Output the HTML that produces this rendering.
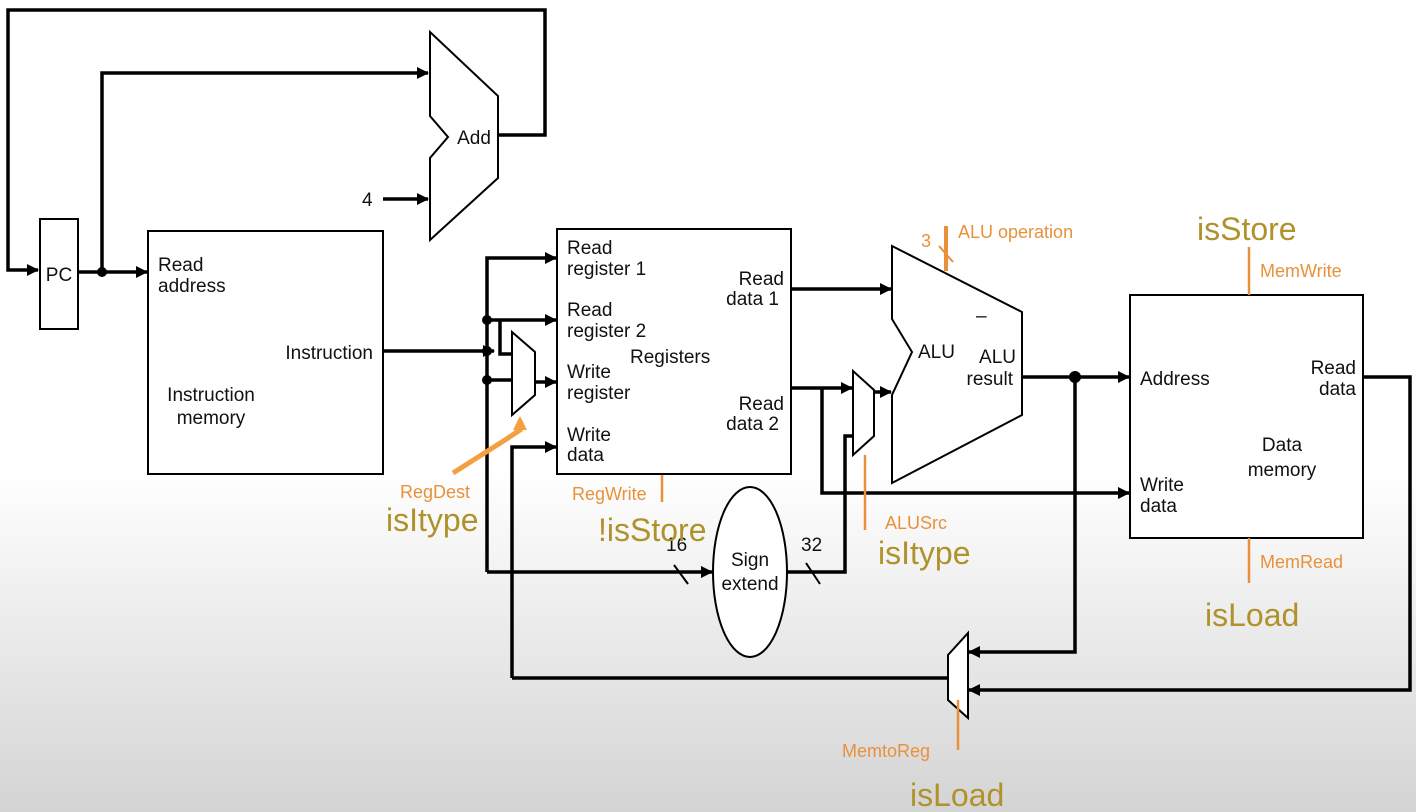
<!DOCTYPE html>
<html><head><meta charset="utf-8"><style>
html,body{margin:0;padding:0;width:1416px;height:812px;overflow:hidden;}
body{background:linear-gradient(to bottom,#fff 0px,#fff 470px,#e2e2e2 700px,#d4d4d4 812px);}
svg{position:absolute;left:0;top:0;}
text{font-family:"Liberation Sans",sans-serif;}
.b{font-size:19px;fill:#111;}
.o{font-size:18px;fill:#e8913a;}
.g{font-size:32px;fill:#b0922c;}
</style></head><body>
<svg width="1416" height="812" viewBox="0 0 1416 812">
<defs><marker id="a" markerWidth="12" markerHeight="12" refX="11" refY="6" orient="auto" markerUnits="userSpaceOnUse" viewBox="0 0 12 12"><path d="M0,0 L12,6 L0,12z" fill="#000"/></marker>
<marker id="ao" markerWidth="14" markerHeight="14" refX="10" refY="7" orient="auto" markerUnits="userSpaceOnUse" viewBox="0 0 14 14"><path d="M0,0 L14,7 L0,14z" fill="#f5a040"/></marker></defs>
<g fill="none" stroke="#000" stroke-width="3.5">
<polyline points="498,135 545,135 545,10 8,10 8,270 38,270" marker-end="url(#a)"/>
<polyline points="78,272 147,272" marker-end="url(#a)"/>
<polyline points="102,272 102,73 428,73" marker-end="url(#a)"/>
<polyline points="383,199 428,199" marker-end="url(#a)"/>
<polyline points="383,351 494,351" marker-end="url(#a)"/>
<polyline points="487,572 487,258 556,258" marker-end="url(#a)"/>
<polyline points="487,320 556,320" marker-end="url(#a)"/>
<polyline points="500,320 500,354 512,354"/>
<polyline points="487,380 512,380"/>
<polyline points="535,382 556,382" marker-end="url(#a)"/>
<polyline points="512,678 512,447 556,447" marker-end="url(#a)"/>
<polyline points="487,572 712,572" marker-end="url(#a)"/>
<polyline points="787,572 845,572 845,436 853,436"/>
<polyline points="791,289 891,289" marker-end="url(#a)"/>
<polyline points="791,388 852,388" marker-end="url(#a)"/>
<polyline points="822,388 822,493 1129,493" marker-end="url(#a)"/>
<polyline points="874,392 891,392" marker-end="url(#a)"/>
<polyline points="1022,377 1129,377" marker-end="url(#a)"/>
<polyline points="1075,377 1075,652 969,652" marker-end="url(#a)"/>
<polyline points="1363,377 1410,377 1410,690 969,690" marker-end="url(#a)"/>
<polyline points="948,678 512,678"/>
</g>
<g fill="#000"><circle cx="102" cy="272" r="5"/><circle cx="487" cy="351" r="5"/><circle cx="487" cy="320" r="5"/><circle cx="487" cy="380" r="5"/><circle cx="1075" cy="377" r="6"/></g>
<g fill="#fff" stroke="#000" stroke-width="2">
<rect x="40" y="219" width="38" height="110"/>
<rect x="148" y="231" width="235" height="243"/>
<rect x="557" y="229" width="234" height="245"/>
<rect x="1130" y="295" width="233" height="243"/>
<polygon points="430,32 498,96 498,178 430,240 430,158 448,137 430,116"/>
<polygon points="512,332 535,352 535,395 512,415"/>
<polygon points="853,371 874,390 874,436 853,455"/>
<polygon points="892,246 1022,312 1022,415 892,483 892,395 912,352 892,319"/>
<polygon points="948,655 968,633 968,718 948,700"/>
<ellipse cx="750" cy="572" rx="37" ry="85"/>
</g>
<g stroke="#000" stroke-width="2"><line x1="674" y1="565" x2="688" y2="584"/><line x1="806" y1="563" x2="820" y2="584"/></g>
<g stroke="#e8913a" stroke-width="2.5" fill="none">
<line x1="662" y1="475" x2="662" y2="502"/>
<line x1="865" y1="455" x2="865" y2="530"/>
<line x1="1249" y1="247" x2="1249" y2="295"/>
<line x1="1249" y1="538" x2="1249" y2="583"/>
<line x1="958" y1="700" x2="958" y2="750"/>
<line x1="946" y1="226" x2="946" y2="271" stroke-width="4"/>
<line x1="939" y1="246" x2="953" y2="262" stroke-width="2"/>
<polyline points="453,473 505,440 520,430 520,420" stroke="#f5a040" stroke-width="5" marker-end="url(#ao)"/>
</g>
<text class="b" x="474" y="144" text-anchor="middle">Add</text>
<text class="b" x="362" y="206">4</text>
<text class="b" x="59" y="281" text-anchor="middle">PC</text>
<text class="b" x="158" y="271">Read</text><text class="b" x="158" y="292">address</text>
<text class="b" x="373" y="359" text-anchor="end">Instruction</text>
<text class="b" x="211" y="401" text-anchor="middle">Instruction</text><text class="b" x="211" y="424" text-anchor="middle">memory</text>
<text class="b" x="567" y="254">Read</text><text class="b" x="567" y="275">register 1</text>
<text class="b" x="567" y="316">Read</text><text class="b" x="567" y="337">register 2</text>
<text class="b" x="567" y="378">Write</text><text class="b" x="567" y="399">register</text>
<text class="b" x="567" y="441">Write</text><text class="b" x="567" y="461">data</text>
<text class="b" x="630" y="363">Registers</text>
<text class="b" x="784" y="285" text-anchor="end">Read</text><text class="b" x="779" y="305" text-anchor="end">data 1</text>
<text class="b" x="784" y="410" text-anchor="end">Read</text><text class="b" x="779" y="430" text-anchor="end">data 2</text>
<text class="b" x="918" y="358">ALU</text>
<text class="b" x="1016" y="363" text-anchor="end">ALU</text><text class="b" x="1013" y="385" text-anchor="end">result</text>
<text class="b" x="976" y="322" font-size="14">–</text>
<text class="b" x="1140" y="385">Address</text>
<text class="b" x="1356" y="374" text-anchor="end">Read</text><text class="b" x="1356" y="395" text-anchor="end">data</text>
<text class="b" x="1282" y="451" text-anchor="middle">Data</text><text class="b" x="1282" y="476" text-anchor="middle">memory</text>
<text class="b" x="1140" y="491">Write</text><text class="b" x="1140" y="512">data</text>
<text class="b" x="750" y="566" text-anchor="middle">Sign</text><text class="b" x="750" y="590" text-anchor="middle">extend</text>
<text class="b" x="666" y="551" font-size="17">16</text>
<text class="b" x="801" y="551" font-size="17">32</text>
<text class="o" x="921" y="247">3</text>
<text class="o" x="958" y="238">ALU operation</text>
<text class="o" x="400" y="498">RegDest</text>
<text class="o" x="572" y="500">RegWrite</text>
<text class="o" x="885" y="529">ALUSrc</text>
<text class="o" x="1260" y="277">MemWrite</text>
<text class="o" x="1260" y="568">MemRead</text>
<text class="o" x="842" y="757">MemtoReg</text>
<text class="g" x="386" y="531" fill="#8c7a2e">isItype</text>
<text class="g" x="598" y="541">!isStore</text>
<text class="g" x="878" y="564">isItype</text>
<text class="g" x="1197" y="240">isStore</text>
<text class="g" x="1205" y="626">isLoad</text>
<text class="g" x="910" y="806">isLoad</text>
</svg>
</body></html>
